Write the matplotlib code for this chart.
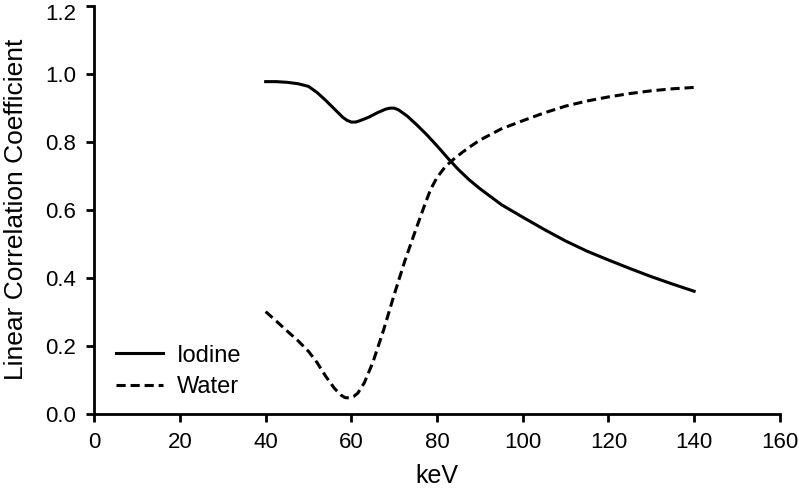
import matplotlib
matplotlib.use("Agg")
import matplotlib.pyplot as plt
import matplotlib.transforms as mtransforms

plt.rcParams['font.family'] = ['Liberation Sans', 'DejaVu Sans']

# Iodine correlation vs energy
iodine_kev = [40, 42.5, 45, 47.5, 50, 52, 54, 56, 58, 59, 60, 61, 62, 64, 66, 68, 69, 70, 71,
              73, 75, 77.5, 80, 82.5, 85, 87.5, 90, 95, 100, 105, 110, 115, 120, 125, 130,
              135, 140]
iodine_r = [0.977, 0.977, 0.975, 0.971, 0.963, 0.945, 0.922, 0.897, 0.872, 0.863, 0.858,
            0.858, 0.862, 0.872, 0.885, 0.896, 0.899, 0.899, 0.894, 0.876, 0.853, 0.822,
            0.788, 0.752, 0.718, 0.688, 0.662, 0.615, 0.578, 0.542, 0.508, 0.478, 0.452,
            0.427, 0.403, 0.381, 0.360]

# Water correlation vs energy
water_kev = [40, 42.5, 45, 47.5, 50, 52, 54, 56, 57.5, 58.5, 59.5, 60.5, 61.5, 63, 65, 67.5,
             70, 72.5, 75, 77, 78.5, 80, 82, 84, 86, 88, 90, 95, 100, 105, 110, 115, 120,
             125, 130, 135, 140]
water_r = [0.30, 0.272, 0.243, 0.215, 0.183, 0.15, 0.11, 0.075, 0.055, 0.047, 0.046, 0.05,
           0.06, 0.09, 0.15, 0.245, 0.35, 0.45, 0.54, 0.61, 0.66, 0.695, 0.728, 0.75, 0.77,
           0.788, 0.805, 0.838, 0.862, 0.885, 0.905, 0.92, 0.932, 0.942, 0.95, 0.956, 0.960]

y_ticks = [0.0, 0.2, 0.4, 0.6, 0.8, 1.0, 1.2]
y_labels = ['0.0', '0.2', '0.4', '0.6', '0.8', '1.0', '1.2']

fig = plt.figure(figsize=(7.99, 4.90), dpi=100)
ax = fig.add_axes([0.118, 0.156, 0.858, 0.832])

ax.plot(iodine_kev, iodine_r, color='black', lw=2.2, label='Iodine')
ax.plot(water_kev, water_r, color='black', lw=2.2, linestyle=(0, (3, 1.6)), label='Water')

ax.set_xlim(0, 160)
ax.set_ylim(0, 1.2)
ax.set_xticks(range(0, 161, 20))
ax.set_yticks(y_ticks)
ax.set_yticklabels(y_labels)
ax.spines['top'].set_visible(False)
ax.spines['right'].set_visible(False)
ax.spines['left'].set_linewidth(2)
ax.spines['bottom'].set_linewidth(2)
ax.tick_params(direction='out', length=6, width=2, labelsize=16)
ax.tick_params(axis='x', pad=7)
ax.tick_params(axis='y', pad=7)

# top label sits a little below its tick so it is not clipped
top_lab = ax.get_yticklabels()[-1]
top_lab.set_transform(top_lab.get_transform() +
                      mtransforms.ScaledTranslation(0, -6 / 100, fig.dpi_scale_trans))

ax.set_xlabel('keV', fontsize=18, labelpad=8)
ax.set_ylabel('Linear Correlation Coefficient', fontsize=19)
ax.yaxis.set_label_coords(-0.097, 0.5)

ax.legend(loc='lower left', bbox_to_anchor=(0.0, -0.014), frameon=False, fontsize=17,
          handlelength=2.0, handletextpad=0.6, labelspacing=0.4)

fig.savefig('out.png', dpi=100)
